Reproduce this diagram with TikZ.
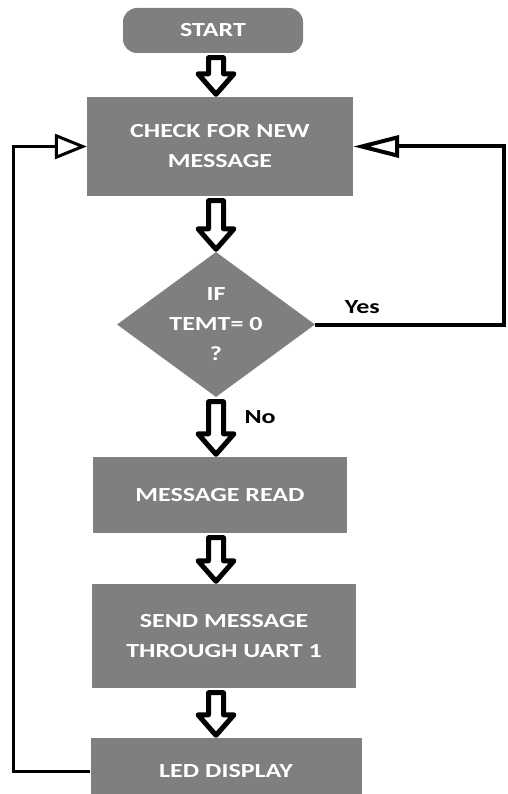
\documentclass[tikz,border=0pt]{standalone}
\usepackage{fontspec}
\setmainfont{Carlito}[FakeStretch=1.3]
\usepackage{tikz}
\usetikzlibrary{arrows.meta,shapes.geometric,calc}
\definecolor{boxgray}{RGB}{127,127,127}

\tikzset{
	box/.style={fill=boxgray, text=white, font=\fontsize{20}{30}\selectfont\bfseries, align=center, inner sep=0pt},
	decision/.style={box, diamond, aspect=1.366},
	lbl/.style={font=\fontsize{20}{30}\selectfont\bfseries, text=black},
	loopline/.style={line width=3pt},
	bigarrow/.style={draw=black, fill=white, line width=5pt, line join=round}
}
% hollow block arrow between two boxes, on the axis of the decision
\newcommand\flowarrow[2]{%
	\draw[bigarrow] let \p1=(#1.south), \p2=(#2.north), \p3=(dec.center) in
	(\x3-7.5,\y1-4.5) -- (\x3+7.5,\y1-4.5) -- (\x3+7.5,\y2+23) -- (\x3+18,\y2+23)
	-- (\x3,\y2+2.5) -- (\x3-18,\y2+23) -- (\x3-7.5,\y2+23) -- cycle;}

\begin{document}
\begin{tikzpicture}[x=1pt,y=-1pt]
		\useasboundingbox (0,0) rectangle (507,794);
		\node[box, rounded corners=14pt, minimum width=180pt, minimum height=45pt] (start) at (213,30.5) {START};
		\node[box, minimum width=266pt, minimum height=99pt] (check) at (220,146.5) {CHECK FOR NEW\\MESSAGE};
		\node[decision, minimum width=198pt, minimum height=145pt] (dec) at (216,324.5) {IF\\TEMT= 0\\?};
		\node[box, minimum width=254pt, minimum height=76pt] (msg) at (220,495) {MESSAGE READ};
		\node[box, minimum width=264pt, minimum height=104pt] (send) at (224,636) {SEND MESSAGE\\THROUGH UART 1};
		\node[box, minimum width=271pt, minimum height=66pt] (led) at (226,771) {LED DISPLAY};
		\coordinate (ll) at (13,0);
		\coordinate (rr) at (504,0);
		%
		\flowarrow{start}{check}
		\flowarrow{check}{dec}
		\flowarrow{dec}{msg}
		\flowarrow{msg}{send}
		\flowarrow{send}{led}
		\node[lbl, anchor=west] (no) at (241,417) {No};
		%
		\draw[loopline, -{Triangle[open, length=32pt, width=25pt]}]
		(led.west) -- (led.west -| ll) -- (check.west -| ll) -- (check.west);
		\draw[loopline, line width=4pt, -{Triangle[open, length=46pt, width=22pt]}]
		(dec.east) -- node[lbl, above, pos=.25, yshift=6pt]{Yes} (dec.east -| rr)
		-- (check.east -| rr) -- (check.east);
		\end{tikzpicture}
\end{document}
